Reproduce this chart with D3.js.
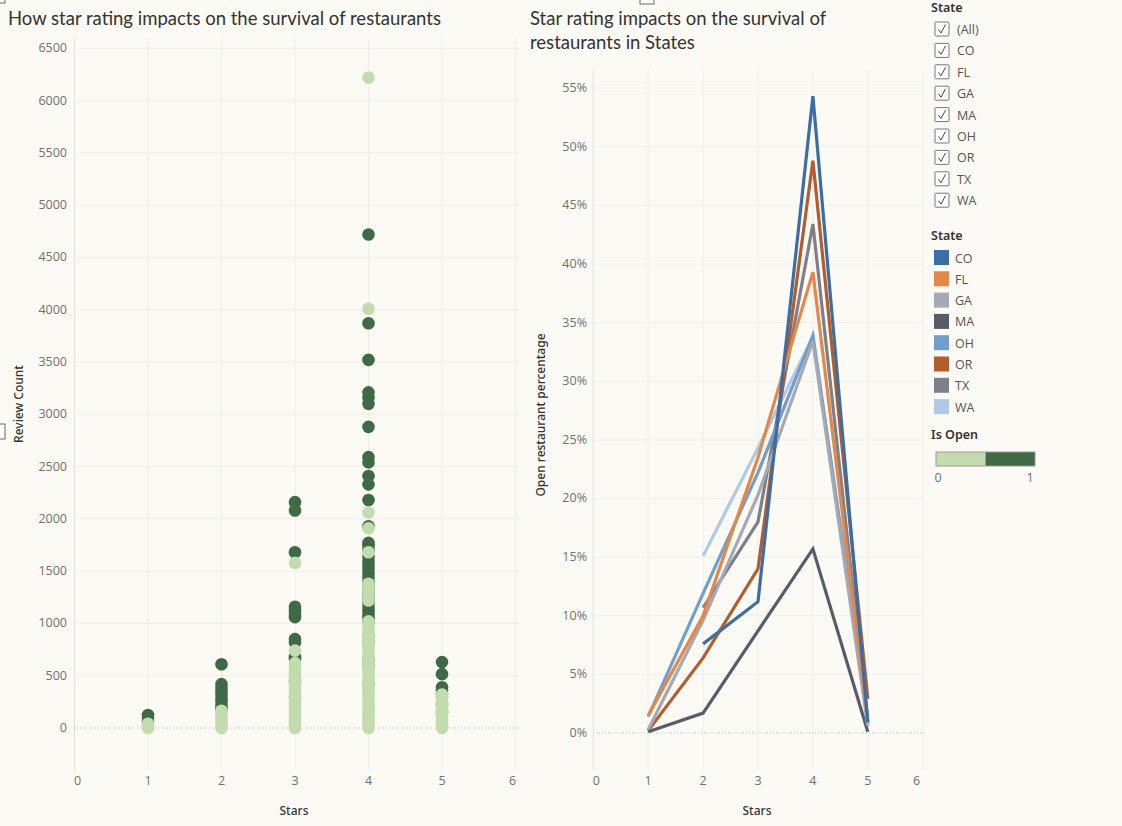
<!DOCTYPE html>
<html>
<head>
<meta charset="utf-8">
<script src="https://cdn.jsdelivr.net/npm/d3@7"></script>
<style>
  body { margin: 0; background: #fcfaf4; }
  svg { display: block; font-family: "Lato", "Open Sans", sans-serif; }
</style>
</head>
<body>
<svg id="chart" width="1122" height="826"></svg>
<script>
// Left chart: review counts per star level, split by Is Open
const stars = [1, 2, 3, 4, 5];
const openReviewCounts = [
  [125, 90, 60],
  [610, 420, 385, 350, 315, 280, 250, 215, 190],
  [2160, 2080, 1680, 1160, 1120, 1080, 1060, 850, 820, 680, 660, 450, 300],
  [4720, 3870, 3520, 3210, 3160, 3100, 2880, 2590, 2540, 2410, 2330, 2180, 1930, 1770, 1740, 1700,
   1640, 1600, 1560, 1520, 1480, 1440, 1400, 1360, 1320, 1280, 1240, 1200, 1160, 1120, 1080, 1050,
   1010, 880, 820, 650, 600, 420],
  [630, 515, 390, 360, 330, 300, 220, 150]
];
const closedReviewCounts = [
  [40, 20, 0],
  [165, 140, 110, 80, 50, 25, 0],
  [1580, 740, 620, 590, 560, 530, 500, 470, 440, 410, 380, 350, 320, 290, 260, 230, 200, 170, 140,
   110, 80, 50, 20, 0],
  [6220, 4010, 2060, 1910, 1680, 1380, 1340, 1300, 1260, 1220, 1020, 990, 960, 930, 900, 870, 840,
   810, 780, 750, 720, 690, 660, 630, 600, 570, 540, 510, 480, 450, 420, 390, 360, 330, 300, 270,
   240, 210, 180, 150, 120, 90, 60, 30, 0],
  [320, 290, 260, 230, 200, 170, 140, 110, 80, 50, 20, 0]
];
const reviewTicks = [0, 500, 1000, 1500, 2000, 2500, 3000, 3500, 4000, 4500, 5000, 5500, 6000, 6500];
const starTicks = [0, 1, 2, 3, 4, 5, 6];

// Right chart: open restaurant percentage per state, stars 1..5 (null = no value)
const states = ["CO", "FL", "GA", "MA", "OH", "OR", "TX", "WA"];
const stateColors = ["#3b6ea5", "#e3874a", "#a5a9b3", "#575c66", "#729ecb", "#b35c2d", "#7c8089", "#aecae6"];
const pctCO = [null, 7.6, 11.2, 54.3, 0.9];
const pctFL = [1.5, 10.0, 23.5, 39.3, 1.0];
const pctGA = [0.3, 9.6, 20.3, 33.4, 0.6];
const pctMA = [0.1, 1.7, 8.7, 15.7, 0.1];
const pctOH = [1.4, 11.9, 22.2, 33.9, 1.4];
const pctOR = [0.2, 6.4, 14.0, 48.8, 2.9];
const pctTX = [null, 10.7, 18.0, 43.4, 0.8];
const pctWA = [null, 15.1, 24.3, 33.8, 1.0];
const pctTicks = [0, 5, 10, 15, 20, 25, 30, 35, 40, 45, 50, 55];

const openColors = ["#c2dcb0", "#3f6a45"];
const gridColor = "#efeeea";
const tickColor = "#707070";
const tickFont = "Open Sans";

const svg = d3.select("#chart");

// little UI leftovers from the dashboard
svg.append("rect").attr("x", -4).attr("y", -6).attr("width", 9).attr("height", 9)
  .attr("fill", "none").attr("stroke", "#666");
svg.append("rect").attr("x", 640).attr("y", -8).attr("width", 14).attr("height", 12)
  .attr("fill", "#fff").attr("stroke", "#666");
svg.append("rect").attr("x", -4).attr("y", 424).attr("width", 9).attr("height", 15)
  .attr("fill", "#fff").attr("stroke", "#666");

// ---------- left chart ----------
const left = { x0: 74, x1: 520, y0: 38, y1: 770 };
const xL = d3.scaleLinear().domain([0, 6]).range([74.5, 515.5]);
const yL = d3.scaleLinear().domain([0, 6500]).range([728, 48.3]);

svg.append("text").attr("x", 8).attr("y", 25)
  .attr("font-size", 18.5).attr("fill", "#333")
  .text("How star rating impacts on the survival of restaurants");

const gL = svg.append("g");
gL.selectAll(".hgrid").data(reviewTicks.filter(d => d > 0)).enter().append("line")
  .attr("x1", left.x0).attr("x2", left.x1)
  .attr("y1", d => yL(d)).attr("y2", d => yL(d))
  .attr("stroke", gridColor);
gL.selectAll(".vgrid").data(starTicks).enter().append("line")
  .attr("x1", d => xL(d)).attr("x2", d => xL(d))
  .attr("y1", left.y0).attr("y2", left.y1)
  .attr("stroke", d => d === 0 ? "#e2e0da" : gridColor);
gL.append("line").attr("x1", left.x0).attr("x2", left.x1)
  .attr("y1", yL(0)).attr("y2", yL(0))
  .attr("stroke", "#bdbdbd").attr("stroke-dasharray", "1,2");

gL.selectAll(".ytick").data(reviewTicks).enter().append("text")
  .attr("x", 67).attr("y", d => yL(d) + 4)
  .attr("text-anchor", "end").attr("font-size", 12.5).attr("fill", tickColor)
  .attr("font-family", tickFont)
  .text(d => d);
gL.selectAll(".xtick").data(starTicks).enter().append("text")
  .attr("x", d => d === 0 ? xL(d) + 3 : (d === 6 ? xL(d) - 3 : xL(d))).attr("y", 785)
  .attr("text-anchor", "middle").attr("font-size", 12.5).attr("fill", tickColor)
  .attr("font-family", tickFont)
  .text(d => d);

svg.append("text").attr("transform", "translate(23,404) rotate(-90)")
  .attr("text-anchor", "middle").attr("font-size", 12).attr("font-weight", 500)
  .attr("fill", "#333").attr("font-family", "Noto Sans")
  .text("Review Count");
svg.append("text").attr("x", 294).attr("y", 815)
  .attr("text-anchor", "middle").attr("font-size", 12).attr("font-weight", 500)
  .attr("fill", "#333").attr("font-family", "Noto Sans")
  .text("Stars");

// dots: open (dark) first, closed (light) drawn over them
const dots = [];
stars.forEach((s, i) => {
  openReviewCounts[i].forEach(v => dots.push({ star: s, count: v, open: 1 }));
});
stars.forEach((s, i) => {
  closedReviewCounts[i].forEach(v => dots.push({ star: s, count: v, open: 0 }));
});
gL.selectAll(".dot").data(dots).enter().append("circle")
  .attr("cx", d => xL(d.star)).attr("cy", d => yL(d.count))
  .attr("r", 6.3)
  .attr("fill", d => openColors[d.open]);

// ---------- right chart ----------
const right = { x0: 593, x1: 925, y0: 70, y1: 770 };
const xR = d3.scaleLinear().domain([0, 6]).range([593.3, 922.7]);
const yR = d3.scaleLinear().domain([0, 55]).range([733, 88]);

svg.append("text").attr("x", 530).attr("y", 25)
  .attr("font-size", 18.5).attr("fill", "#333")
  .text("Star rating impacts on the survival of");
svg.append("text").attr("x", 530).attr("y", 49)
  .attr("font-size", 18.5).attr("fill", "#333")
  .text("restaurants in States");

const gR = svg.append("g");
gR.selectAll(".hgrid").data(pctTicks.filter(d => d > 0)).enter().append("line")
  .attr("x1", right.x0).attr("x2", right.x1)
  .attr("y1", d => yR(d)).attr("y2", d => yR(d))
  .attr("stroke", gridColor);
gR.selectAll(".vgrid").data(starTicks).enter().append("line")
  .attr("x1", d => xR(d)).attr("x2", d => xR(d))
  .attr("y1", right.y0).attr("y2", right.y1)
  .attr("stroke", d => d === 0 ? "#e2e0da" : gridColor);
gR.append("line").attr("x1", right.x0).attr("x2", right.x1)
  .attr("y1", yR(0)).attr("y2", yR(0))
  .attr("stroke", "#bdbdbd").attr("stroke-dasharray", "1,2");

gR.selectAll(".ytick").data(pctTicks).enter().append("text")
  .attr("x", 587).attr("y", d => yR(d) + 4)
  .attr("text-anchor", "end").attr("font-size", 12.5).attr("fill", tickColor)
  .attr("font-family", tickFont)
  .text(d => d + "%");
gR.selectAll(".xtick").data(starTicks).enter().append("text")
  .attr("x", d => d === 0 ? xR(d) + 3 : (d === 6 ? xR(d) - 6 : xR(d))).attr("y", 785)
  .attr("text-anchor", "middle").attr("font-size", 12.5).attr("fill", tickColor)
  .attr("font-family", tickFont)
  .text(d => d);

svg.append("text").attr("transform", "translate(545,415) rotate(-90)")
  .attr("text-anchor", "middle").attr("font-size", 12).attr("font-weight", 500)
  .attr("fill", "#333").attr("font-family", "Noto Sans")
  .text("Open restaurant percentage");
svg.append("text").attr("x", 757).attr("y", 815)
  .attr("text-anchor", "middle").attr("font-size", 12).attr("font-weight", 500)
  .attr("fill", "#333").attr("font-family", "Noto Sans")
  .text("Stars");

const series = [pctCO, pctFL, pctGA, pctMA, pctOH, pctOR, pctTX, pctWA].map((vals, i) => ({
  state: states[i],
  color: stateColors[i],
  points: vals.map((v, j) => ({ star: stars[j], pct: v }))
}));
const line = d3.line()
  .defined(d => d.pct !== null)
  .x(d => xR(d.star))
  .y(d => yR(d.pct));
gR.selectAll(".series").data(series.slice().reverse()).enter().append("path")
  .attr("d", d => line(d.points))
  .attr("fill", "none")
  .attr("stroke", d => d.color)
  .attr("stroke-width", 3.2)
  .attr("stroke-linejoin", "miter");

// ---------- legends ----------
const lg = svg.append("g");
lg.append("text").attr("x", 931).attr("y", 12)
  .attr("font-size", 12.5).attr("font-weight", 600).attr("fill", "#333")
  .attr("font-family", "Noto Sans").text("State");
const filterItems = ["(All)"].concat(states);
const fRow = lg.selectAll(".filter").data(filterItems).enter().append("g")
  .attr("transform", (d, i) => `translate(935,${22 + i * 21.4})`);
fRow.append("rect").attr("width", 14).attr("height", 14).attr("rx", 1)
  .attr("fill", "#fff").attr("stroke", "#777").attr("stroke-width", 1);
fRow.append("path").attr("d", "M3.5,7.5 L6,11 L10.5,2.5")
  .attr("fill", "none").attr("stroke", "#444").attr("stroke-width", 1);
fRow.append("text").attr("x", 22).attr("y", 12)
  .attr("font-size", 12.5).attr("fill", "#555").attr("font-family", tickFont).text(d => d);

lg.append("text").attr("x", 931).attr("y", 240)
  .attr("font-size", 12.5).attr("font-weight", 600).attr("fill", "#333")
  .attr("font-family", "Noto Sans").text("State");
const cRow = lg.selectAll(".swatch").data(states).enter().append("g")
  .attr("transform", (d, i) => `translate(934,${250 + i * 21.3})`);
cRow.append("rect").attr("width", 15).attr("height", 15)
  .attr("fill", (d, i) => stateColors[i]);
cRow.append("text").attr("x", 21).attr("y", 12.5)
  .attr("font-size", 12.5).attr("fill", "#555").attr("font-family", tickFont).text(d => d);

lg.append("text").attr("x", 931).attr("y", 439)
  .attr("font-size", 12.5).attr("font-weight", 600).attr("fill", "#333")
  .attr("font-family", "Noto Sans").text("Is Open");
const openScale = d3.scaleLinear().domain([0, 1]).range([936, 1035]);
lg.selectAll(".openbar").data([0, 1]).enter().append("rect")
  .attr("x", d => d === 0 ? openScale(0) : openScale(0.5))
  .attr("y", 452).attr("width", (openScale(1) - openScale(0)) / 2).attr("height", 14)
  .attr("fill", d => openColors[d]);
lg.append("rect").attr("x", 936).attr("y", 452).attr("width", 99).attr("height", 14)
  .attr("fill", "none").attr("stroke", "#999").attr("stroke-width", 1);
lg.selectAll(".openlbl").data([0, 1]).enter().append("text")
  .attr("x", d => openScale(d) + (d === 0 ? 2 : -5)).attr("y", 482)
  .attr("text-anchor", "middle").attr("font-size", 12.5).attr("fill", tickColor)
  .attr("font-family", tickFont)
  .text(d => d);
</script>
</body>
</html>
